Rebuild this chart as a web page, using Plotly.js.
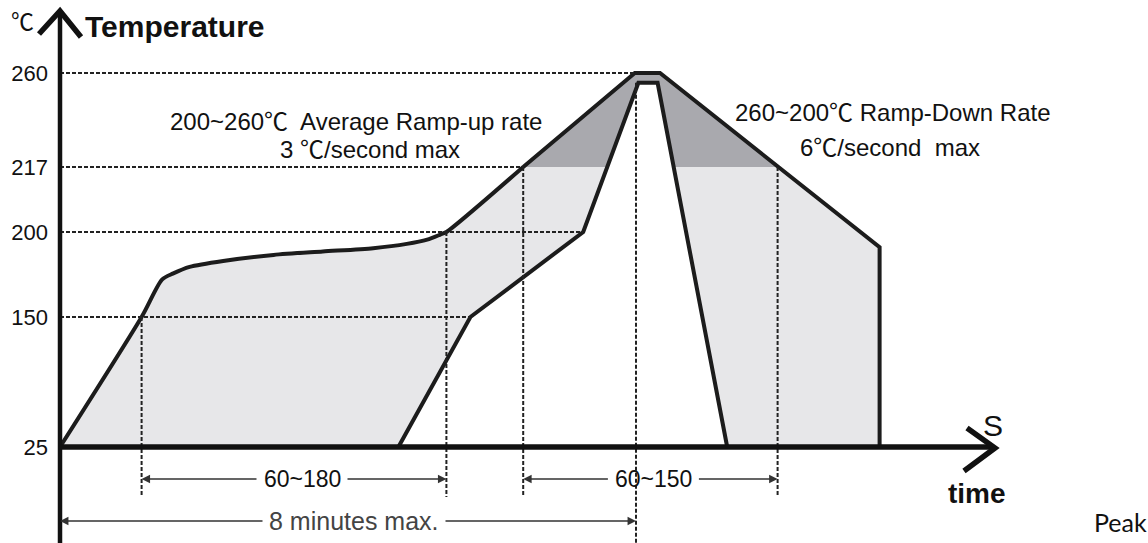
<!DOCTYPE html>
<html>
<head>
<meta charset="utf-8">
<script src="https://cdn.plot.ly/plotly-3.0.1.min.js"></script>
<style>
  html, body { margin: 0; padding: 0; background: #ffffff; }
  #chart { width: 1148px; height: 543px; }
</style>
</head>
<body>
<div id="chart"></div>
<script>
// ---------------- data (time in s, temperature in °C, read from the schematic) ----------------
const yTickTemps = [25, 150, 200, 217, 260];
const yTickText = ['25', '150', '200', '217', '260'];

// upper (outer) limit of the reflow profile
const outerTime = [0, 68, 85, 94, 108, 136, 178, 219, 261, 289, 306, 317, 322, 386, 479, 500, 598, 683, 683];
const outerTemp = [25, 150, 172, 175.5, 179.5, 183, 186.5, 188.5, 190.5, 193, 195.5, 198.5, 200, 217, 260, 260, 217, 191, 25];

// lower (inner) limit of the reflow profile
const innerTime = [282, 342, 436, 482, 498, 556];
const innerTemp = [25, 150, 200, 255.5, 255.5, 25];

// dotted guide lines
const hGuideTemps = [150, 200, 217, 260];
const hGuideEnds = [342, 436, 386, 479];
const vGuideTimes = [68, 322, 386, 480, 598];
const vGuideTemps = [150, 200, 217, 255.5, 217];

// time windows
const windowLabels = ['60~180', '60~150', '8 minutes max.'];
const windowStart = [68, 386, 0];
const windowEnd = [322, 598, 480];

// ---------------- schematic axis (not to scale in the original) ----------------
const W = 1148, H = 543;
const AX_PX = 60, BASE_PY = 447, PX_PER_S = 1.2;
const tickHeights = [0, 130, 215, 280, 374];   // schematic height of each tick level
function warp(t) {
  for (let i = 0; i < yTickTemps.length - 1; i++) {
    const a = yTickTemps[i], b = yTickTemps[i + 1];
    if (t <= b || i === yTickTemps.length - 2) {
      return tickHeights[i] + (t - a) / (b - a) * (tickHeights[i + 1] - tickHeights[i]);
    }
  }
}
const X = px => px / W;
const Y = py => 1 - py / H;

const FONT = 'Liberation Sans, Arial, Helvetica, Noto Sans CJK SC, sans-serif';
const INK = '#1c1c1c';

// ---------------- traces ----------------
const upper = outerTemp.filter(t => t >= 217);
const upperTime = outerTime.filter((_, i) => outerTemp[i] >= 217);
const soakEnd = 13; // index where the curved part of the outer profile ends

const traces = [
  { x: outerTime, y: outerTemp.map(warp), mode: 'lines', fill: 'toself',
    fillcolor: '#e7e7e9', line: { width: 0 }, hoverinfo: 'skip' },
  { x: upperTime, y: upper.map(warp), mode: 'lines', fill: 'toself',
    fillcolor: '#a9a9ae', line: { width: 0 }, hoverinfo: 'skip' },
  { x: innerTime, y: innerTemp.map(warp), mode: 'lines', fill: 'toself',
    fillcolor: '#ffffff', line: { width: 0 }, hoverinfo: 'skip' },
  { x: outerTime.slice(0, soakEnd + 1), y: outerTemp.slice(0, soakEnd + 1).map(warp), mode: 'lines',
    line: { color: INK, width: 4, shape: 'spline', smoothing: 0.7 }, hoverinfo: 'skip' },
  { x: outerTime.slice(soakEnd), y: outerTemp.slice(soakEnd).map(warp), mode: 'lines',
    line: { color: INK, width: 4 }, hoverinfo: 'skip' },
  { x: innerTime, y: innerTemp.map(warp), mode: 'lines',
    line: { color: INK, width: 4 }, hoverinfo: 'skip' }
];

// ---------------- shapes ----------------
const shapes = [];
const dotted = { color: '#222', width: 2, dash: '4px,2px' };
hGuideTemps.forEach((t, i) => shapes.push({
  type: 'line', xref: 'x', yref: 'y', x0: 0, x1: hGuideEnds[i], y0: warp(t), y1: warp(t),
  line: dotted, layer: 'above'
}));
vGuideTimes.forEach((s, i) => shapes.push({
  type: 'line', xref: 'x', yref: 'y', x0: s, x1: s, y0: warp(vGuideTemps[i]),
  y1: (s === 480 ? -110 : -50), line: dotted, layer: 'above'
}));
// axes with arrow heads
shapes.push({ type: 'line', xref: 'paper', yref: 'paper', x0: X(AX_PX), x1: X(AX_PX), y0: Y(H + 5), y1: Y(12),
  line: { color: '#111', width: 4.5 } });
shapes.push({ type: 'path', xref: 'paper', yref: 'paper',
  path: `M ${X(39)} ${Y(34)} L ${X(AX_PX)} ${Y(11)} L ${X(81)} ${Y(37)}`,
  line: { color: '#111', width: 5.5 } });
shapes.push({ type: 'line', xref: 'paper', yref: 'paper', x0: X(AX_PX), x1: X(992), y0: Y(BASE_PY), y1: Y(BASE_PY),
  line: { color: '#111', width: 5.5 } });
shapes.push({ type: 'path', xref: 'paper', yref: 'paper',
  path: `M ${X(967)} ${Y(428)} L ${X(995)} ${Y(448)} L ${X(964)} ${Y(471)}`,
  line: { color: '#111', width: 5.5 } });

// ---------------- annotations ----------------
function txt(text, px, py, size, opts) {
  return Object.assign({ text, xref: 'paper', yref: 'paper', x: X(px), y: Y(py),
    xanchor: 'center', yanchor: 'middle', showarrow: false,
    font: { family: FONT, size, color: '#111' } }, opts || {});
}
const annotations = [
  txt('℃', 22, 20, 23, { font: { family: 'Noto Sans CJK SC, sans-serif', size: 23, color: '#111' } }),
  txt('<b>Temperature</b>', 83, 27, 30, { xanchor: 'left' }),
  txt('200~260℃&nbsp; Average Ramp-up rate', 168, 122, 24, { xanchor: 'left' }),
  txt('3 ℃/second max', 278, 150, 24, { xanchor: 'left' }),
  txt('260~200℃ Ramp-Down Rate', 733, 112, 24, { xanchor: 'left' }),
  txt('6℃/second&nbsp; max', 798, 147, 24, { xanchor: 'left' }),
  txt('S', 993, 425, 30),
  txt('<b>time</b>', 977, 493, 28),
  txt('Peak', 1120, 522, 25, { font: { family: 'Lato, Carlito, Open Sans, sans-serif', size: 25, color: '#111' } })
];

const rowH = [BASE_PY - 479, BASE_PY - 479, BASE_PY - 521];
const halfText = [44, 44, 90];
const textShift = [8, 3, 6];
const textSize = [23, 23, 25];
const textColor = ['#111', '#111', '#444'];
windowLabels.forEach((lab, i) => {
  const mid = (windowStart[i] + windowEnd[i]) / 2 + textShift[i] / PX_PER_S;
  const gap = halfText[i] / PX_PER_S;
  annotations.push({ text: lab, xref: 'x', yref: 'y', x: mid, y: rowH[i], showarrow: false,
    xanchor: 'center', yanchor: 'middle', font: { family: FONT, size: textSize[i], color: textColor[i] } });
  [[windowStart[i], mid - gap], [windowEnd[i], mid + gap]].forEach(([head, tail]) => {
    annotations.push({ text: '', xref: 'x', yref: 'y', axref: 'x', ayref: 'y',
      x: head, y: rowH[i], ax: tail, ay: rowH[i], showarrow: true,
      arrowhead: 2, arrowsize: 1.3, arrowwidth: 1.3, arrowcolor: '#333', standoff: 0, startstandoff: 0 });
  });
});

// ---------------- layout ----------------
const layout = {
  width: W, height: H,
  margin: { l: 0, r: 0, t: 0, b: 0, pad: 0 },
  paper_bgcolor: '#ffffff', plot_bgcolor: '#ffffff',
  showlegend: false, hovermode: false,
  xaxis: { range: [-AX_PX / PX_PER_S, (W - AX_PX) / PX_PER_S], visible: false, fixedrange: true },
  yaxis: { range: [BASE_PY - H, BASE_PY], anchor: 'free', position: X(AX_PX),
    tickvals: yTickTemps.map(warp), ticktext: yTickText, ticks: '', ticklabelstandoff: 12,
    showgrid: false, zeroline: false, showline: false, fixedrange: true,
    tickfont: { family: FONT, size: 22, color: '#111' } },
  shapes, annotations
};

Plotly.newPlot('chart', traces, layout, { staticPlot: true, displayModeBar: false });
</script>
</body>
</html>
